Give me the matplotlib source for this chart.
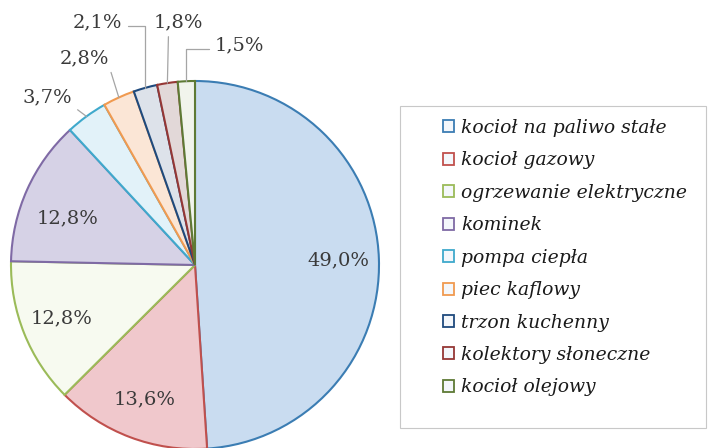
import numpy as np
import matplotlib.pyplot as plt
from matplotlib.patches import Rectangle

# data
labels = ['kocioł na paliwo stałe', 'kocioł gazowy', 'ogrzewanie elektryczne',
          'kominek', 'pompa ciepła', 'piec kaflowy', 'trzon kuchenny',
          'kolektory słoneczne', 'kocioł olejowy']
shares = [49.0, 13.6, 12.8, 12.8, 3.7, 2.8, 2.1, 1.8, 1.5]
pct_text = ['49,0%', '13,6%', '12,8%', '12,8%', '3,7%', '2,8%', '2,1%', '1,8%', '1,5%']

fills = ['#c9dcf0', '#f0c8cc', '#f7faf0', '#d6d2e6', '#e2f2f9',
         '#fbe6d6', '#dde2ea', '#e2d8d8', '#f1f4ec']
edges = ['#3b7db3', '#c0504d', '#9bbb59', '#7f6aa5', '#3fa9cc',
         '#f09a50', '#1f4a7d', '#953735', '#5e7a35']

# layout of outside labels (data units)
out_pos = {4: (-0.80, 0.913), 5: (-0.60, 1.125), 6: (-0.53, 1.32),
           7: (-0.09, 1.32), 8: (0.24, 1.196)}

fig = plt.figure(figsize=(7.12, 4.48), dpi=100)
ax = fig.add_axes([11 / 712, -1 / 448, 368 / 712, 368 / 448])

wedges, _ = ax.pie(shares, startangle=90, counterclock=False, colors=fills,
                   radius=1.0, wedgeprops=dict(linewidth=1.5))
for w, ec in zip(wedges, edges):
    w.set_edgecolor(ec)

ax.set_xlim(-1, 1)
ax.set_ylim(-1, 1)
ax.set_aspect('equal')
ax.axis('off')

txt_kw = dict(family='DejaVu Serif', fontsize=14, color='#3a3a3a')
for i, w in enumerate(wedges):
    mid = np.deg2rad((w.theta1 + w.theta2) / 2)
    if i < 4:
        a = mid + (np.deg2rad(4) if i == 3 else 0)
        r = 0.78 if i != 3 else 0.74
        ax.text(r * np.cos(a), r * np.sin(a), pct_text[i],
                ha='center', va='center', **txt_kw)
    else:
        xy = (np.cos(mid), np.sin(mid))
        if i == 6:
            cs, rp = 'angle,angleA=0,angleB=90,rad=0', (1.0, 0.3)
        elif i == 8:
            cs, rp = 'angle,angleA=180,angleB=90,rad=0', (0.0, 0.3)
        elif i == 7:
            cs, rp = 'arc3,rad=0', (0.3, 0.0)
        else:
            cs, rp = 'arc3,rad=0', (1.0, 0.0)
        ax.annotate(pct_text[i], xy=xy, xytext=out_pos[i], ha='center', va='center',
                    annotation_clip=False,
                    arrowprops=dict(arrowstyle='-', color='#a5a5a5', lw=0.9,
                                    connectionstyle=cs, relpos=rp,
                                    shrinkA=2, shrinkB=0),
                    **txt_kw)

# legend frame drawn separately (wide left padding)
fig.patches.append(Rectangle((400 / 712, 1 - 428 / 448), 306 / 712, 322 / 448,
                             transform=fig.transFigure, facecolor='white',
                             edgecolor='#c8c8c8', linewidth=0.8, zorder=0))

leg = fig.legend(wedges, labels, loc='upper left',
                 bbox_to_anchor=(443 / 712, 1 - 119 / 448),
                 prop=dict(family='DejaVu Serif', style='italic', size=13.5),
                 labelcolor='#1a1a1a', frameon=False,
                 handlelength=0.6, handleheight=0.6, handletextpad=0.37,
                 labelspacing=0.77, borderpad=0.0, borderaxespad=0)
for h, ec in zip(leg.legend_handles, edges):
    h.set_edgecolor(ec)
    h.set_linewidth(1.3)
    h.set_facecolor('#f4f7fb')

fig.savefig('out.png', dpi=100)
